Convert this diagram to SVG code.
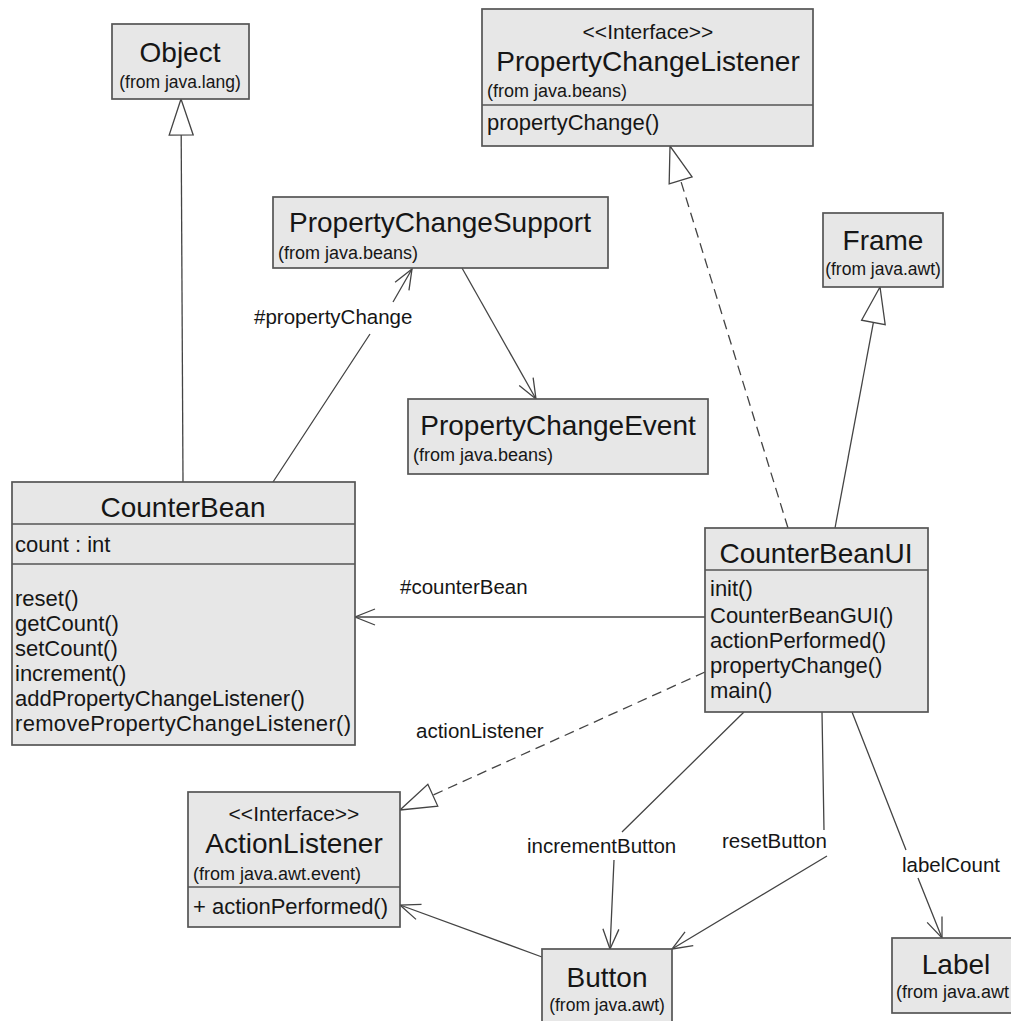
<svg xmlns="http://www.w3.org/2000/svg" width="1011" height="1021" viewBox="0 0 1011 1021">
<style>
.box{fill:#e7e7e7;stroke:#555555;stroke-width:1.7}
.div{stroke:#555555;stroke-width:1.7}
text{font-family:"Liberation Sans",Arial,sans-serif;fill:#161616}
.t{font-size:28px;text-anchor:middle}
.s{font-size:18px}
.sc{font-size:17.5px;text-anchor:middle}
.st{font-size:21px;text-anchor:middle}
.m{font-size:22px}
.lbl{font-size:20.5px}
.c{fill:none;stroke:#444444;stroke-width:1.3}
.d{stroke-dasharray:10 6}
</style>
<defs>
<marker id="tri" viewBox="-40 -15 42 30" markerWidth="42" markerHeight="30" refX="0" refY="0" orient="auto" markerUnits="userSpaceOnUse">
<path d="M0,0 L-36,-12 L-36,12 Z" fill="#ffffff" stroke="#444444" stroke-width="1.3" stroke-dasharray="none"/>
</marker>
<marker id="open" viewBox="-24 -10 26 20" markerWidth="26" markerHeight="20" refX="0" refY="0" orient="auto" markerUnits="userSpaceOnUse">
<path d="M-20,-8 L0,0 L-20,8" fill="none" stroke="#444444" stroke-width="1.3" stroke-dasharray="none"/>
</marker>
</defs>
<rect width="1011" height="1021" fill="#ffffff"/>

<g id="connectors">
<path class="c" d="M183,482 L181,99" marker-end="url(#tri)"/>
<path class="c" d="M273,482 L370,334 M393,302 L412,269" marker-end="url(#open)"/>
<path class="c" d="M462,268 L536,399" marker-end="url(#open)"/>
<path class="c d" d="M788,528 L670,146" marker-end="url(#tri)"/>
<path class="c" d="M835,528 L880,287" marker-end="url(#tri)"/>
<path class="c" d="M705,617 L355,617" marker-end="url(#open)"/>
<path class="c d" d="M705,672 L400,810" marker-end="url(#tri)"/>
<path class="c" d="M744,712 L622,832 M614,860 L610,949" marker-end="url(#open)"/>
<path class="c" d="M822,712 L824,830 M827,856 L672,949" marker-end="url(#open)"/>
<path class="c" d="M852,712 L906,850 M918,878 L942,938" marker-end="url(#open)"/>
<path class="c" d="M542,957 L400,905" marker-end="url(#open)"/>
<text class="lbl" x="254" y="324">#propertyChange</text>
<text class="lbl" x="400" y="594">#counterBean</text>
<text class="lbl" x="416" y="738">actionListener</text>
<text class="lbl" x="527" y="853">incrementButton</text>
<text class="lbl" x="722" y="848">resetButton</text>
<text class="lbl" x="902" y="872">labelCount</text>
</g>

<g id="Object">
<rect class="box" x="112" y="24" width="137" height="75"/>
<text class="t" x="180" y="62">Object</text>
<text class="sc" x="180" y="88">(from java.lang)</text>
</g>

<g id="PropertyChangeListener">
<rect class="box" x="482" y="9" width="331" height="137"/>
<line class="div" x1="482" y1="105" x2="813" y2="105"/>
<text class="st" x="648" y="39">&lt;&lt;Interface&gt;&gt;</text>
<text class="t" x="648" y="71">PropertyChangeListener</text>
<text class="s" x="487" y="97">(from java.beans)</text>
<text class="m" x="487" y="130">propertyChange()</text>
</g>

<g id="PropertyChangeSupport">
<rect class="box" x="273" y="197" width="335" height="71"/>
<text class="t" x="440" y="232">PropertyChangeSupport</text>
<text class="s" x="278" y="259">(from java.beans)</text>
</g>

<g id="PropertyChangeEvent">
<rect class="box" x="408" y="399" width="300" height="75"/>
<text class="t" x="558" y="435">PropertyChangeEvent</text>
<text class="s" x="413" y="461">(from java.beans)</text>
</g>

<g id="Frame">
<rect class="box" x="823" y="213" width="120" height="74"/>
<text class="t" x="883" y="250">Frame</text>
<text class="sc" x="883" y="275">(from java.awt)</text>
</g>

<g id="CounterBean">
<rect class="box" x="12" y="482" width="343" height="263"/>
<line class="div" x1="12" y1="524" x2="355" y2="524"/>
<line class="div" x1="12" y1="564" x2="355" y2="564"/>
<text class="t" x="183" y="517">CounterBean</text>
<text class="m" x="15" y="552">count : int</text>
<text class="m" x="15" y="606">reset()</text>
<text class="m" x="15" y="631">getCount()</text>
<text class="m" x="15" y="656">setCount()</text>
<text class="m" x="15" y="681">increment()</text>
<text class="m" x="15" y="706">addPropertyChangeListener()</text>
<text class="m" x="15" y="731" textLength="336">removePropertyChangeListener()</text>
</g>

<g id="CounterBeanUI">
<rect class="box" x="705" y="528" width="223" height="184"/>
<line class="div" x1="705" y1="570" x2="928" y2="570"/>
<text class="t" x="816" y="563">CounterBeanUI</text>
<text class="m" x="710" y="596">init()</text>
<text class="m" x="710" y="623">CounterBeanGUI()</text>
<text class="m" x="710" y="648">actionPerformed()</text>
<text class="m" x="710" y="673">propertyChange()</text>
<text class="m" x="710" y="698">main()</text>
</g>

<g id="ActionListener">
<rect class="box" x="188" y="792" width="212" height="135"/>
<line class="div" x1="188" y1="887" x2="400" y2="887"/>
<text class="st" x="294" y="821">&lt;&lt;Interface&gt;&gt;</text>
<text class="t" x="294" y="853">ActionListener</text>
<text class="s" x="193" y="880">(from java.awt.event)</text>
<text class="m" x="193" y="914">+ actionPerformed()</text>
</g>

<g id="Button">
<rect class="box" x="542" y="949" width="130" height="80"/>
<text class="t" x="607" y="987">Button</text>
<text class="sc" x="607" y="1011">(from java.awt)</text>
</g>

<g id="Label">
<rect class="box" x="892" y="938" width="125" height="75"/>
<text class="t" x="956" y="974">Label</text>
<text class="s" x="896" y="998">(from java.awt</text>
</g>
</svg>
